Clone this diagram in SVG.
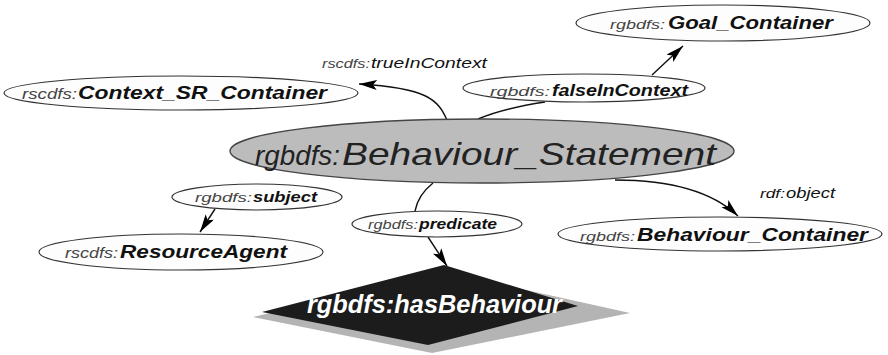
<svg xmlns="http://www.w3.org/2000/svg" width="888" height="355" viewBox="0 0 888 355">
  <style>
    .node { fill: #fdfdfd; stroke: #333; stroke-width: 1.2; }
    .main { fill: #bcbcbc; stroke: #444; stroke-width: 1.4; }
    .pre { font-family: "Liberation Sans", Arial, sans-serif; font-style: italic; fill: #444; }
    .loc { font-family: "Liberation Sans", Arial, sans-serif; font-style: italic; font-weight: bold; fill: #111; }
    .big { font-family: "Liberation Sans", Arial, sans-serif; font-style: italic; fill: #222; }
    .edge { fill: none; stroke: #111; stroke-width: 1.4; }
    .lab { font-family: "Liberation Sans", Arial, sans-serif; font-style: italic; fill: #111; }
  </style>
  <defs>
    <marker id="arrow" markerUnits="userSpaceOnUse" markerWidth="20" markerHeight="12" refX="18" refY="5" orient="auto">
      <path d="M0,0 L18,5 L0,10 L4,5 Z" fill="#000"/>
    </marker>
  </defs>
  <rect width="888" height="355" fill="#fff"/>

  <g id="connectors">
    <path class="edge" d="M447,120 C438,100 428,88 359,84" marker-end="url(#arrow)"/>
    <path class="edge" d="M478,119 Q505,108 545,102"/>
    <path class="edge" d="M652,75 L683,46" marker-end="url(#arrow)"/>
    <path class="edge" d="M215,209 L200,232" marker-end="url(#arrow)"/>
    <path class="edge" d="M433,183 Q418,195 415,211"/>
    <path class="edge" d="M428,237 L447,266" marker-end="url(#arrow)"/>
    <path class="edge" d="M615,180 Q700,180 738,216" marker-end="url(#arrow)"/>
    <text class="lab" x="322" y="68"><tspan font-size="13" fill="#444" textLength="48" lengthAdjust="spacingAndGlyphs">rscdfs:</tspan></text>
    <text class="lab" x="371" y="68" font-size="15" textLength="116" lengthAdjust="spacingAndGlyphs">trueInContext</text>
    <text class="lab" x="760" y="198" font-size="13" fill="#444" textLength="25" lengthAdjust="spacingAndGlyphs">rdf:</text>
    <text class="lab" x="786" y="198" font-size="15" textLength="49" lengthAdjust="spacingAndGlyphs">object</text>
  </g>

  <g id="goal-container">
    <ellipse class="node" cx="723" cy="23" rx="147" ry="18"/>
    <text class="pre" x="610" y="29" font-size="13" textLength="55" lengthAdjust="spacingAndGlyphs">rgbdfs:</text>
    <text class="loc" x="668" y="29" font-size="18" textLength="165" lengthAdjust="spacingAndGlyphs">Goal_Container</text>
  </g>

  <g id="context-sr-container">
    <ellipse class="node" cx="181" cy="93" rx="177" ry="17"/>
    <text class="pre" x="22" y="99" font-size="14" textLength="55" lengthAdjust="spacingAndGlyphs">rscdfs:</text>
    <text class="loc" x="78" y="99" font-size="18" textLength="249" lengthAdjust="spacingAndGlyphs">Context_SR_Container</text>
  </g>

  <g id="false-in-context">
    <ellipse class="node" cx="584" cy="88" rx="121" ry="14"/>
    <text class="pre" x="490" y="96" font-size="13" textLength="60" lengthAdjust="spacingAndGlyphs">rgbdfs:</text>
    <text class="loc" x="552" y="96" font-size="16" textLength="136" lengthAdjust="spacingAndGlyphs">falseInContext</text>
  </g>

  <g id="behaviour-statement">
    <ellipse class="main" cx="482" cy="151" rx="252" ry="32"/>
    <text class="big" x="255" y="165" font-size="27" fill="#333" textLength="85" lengthAdjust="spacingAndGlyphs">rgbdfs:</text>
    <text class="big" x="342" y="165" font-size="32" textLength="374" lengthAdjust="spacingAndGlyphs">Behaviour_Statement</text>
  </g>

  <g id="subject">
    <ellipse class="node" cx="257" cy="197" rx="85" ry="13"/>
    <text class="pre" x="195" y="202" font-size="13" textLength="57" lengthAdjust="spacingAndGlyphs">rgbdfs:</text>
    <text class="loc" x="253" y="202" font-size="15" textLength="64" lengthAdjust="spacingAndGlyphs">subject</text>
  </g>

  <g id="resource-agent">
    <ellipse class="node" cx="181" cy="252" rx="142" ry="18"/>
    <text class="pre" x="65" y="258" font-size="14" textLength="53" lengthAdjust="spacingAndGlyphs">rscdfs:</text>
    <text class="loc" x="120" y="258" font-size="19" textLength="167" lengthAdjust="spacingAndGlyphs">ResourceAgent</text>
  </g>

  <g id="predicate">
    <ellipse class="node" cx="437" cy="224" rx="85" ry="13"/>
    <text class="pre" x="368" y="229" font-size="13" textLength="50" lengthAdjust="spacingAndGlyphs">rgbdfs:</text>
    <text class="loc" x="419" y="229" font-size="15" textLength="78" lengthAdjust="spacingAndGlyphs">predicate</text>
  </g>

  <g id="behaviour-container">
    <ellipse class="node" cx="720" cy="234" rx="162" ry="17"/>
    <text class="pre" x="580" y="241" font-size="13" textLength="55" lengthAdjust="spacingAndGlyphs">rgbdfs:</text>
    <text class="loc" x="637" y="241" font-size="18" textLength="231" lengthAdjust="spacingAndGlyphs">Behaviour_Container</text>
  </g>

  <g id="has-behaviour">
    <polygon points="253,317 445,272 630,313 432,353" fill="#b4b4b4"/>
    <polygon points="262,312 444,265 578,306 428,345" fill="#1c1c1c"/>
    <text x="307" y="313" font-family="Liberation Sans, Arial, sans-serif" font-style="italic" font-weight="bold" font-size="25" fill="#fff" textLength="255" lengthAdjust="spacingAndGlyphs">rgbdfs:hasBehaviour</text>
  </g>
</svg>
